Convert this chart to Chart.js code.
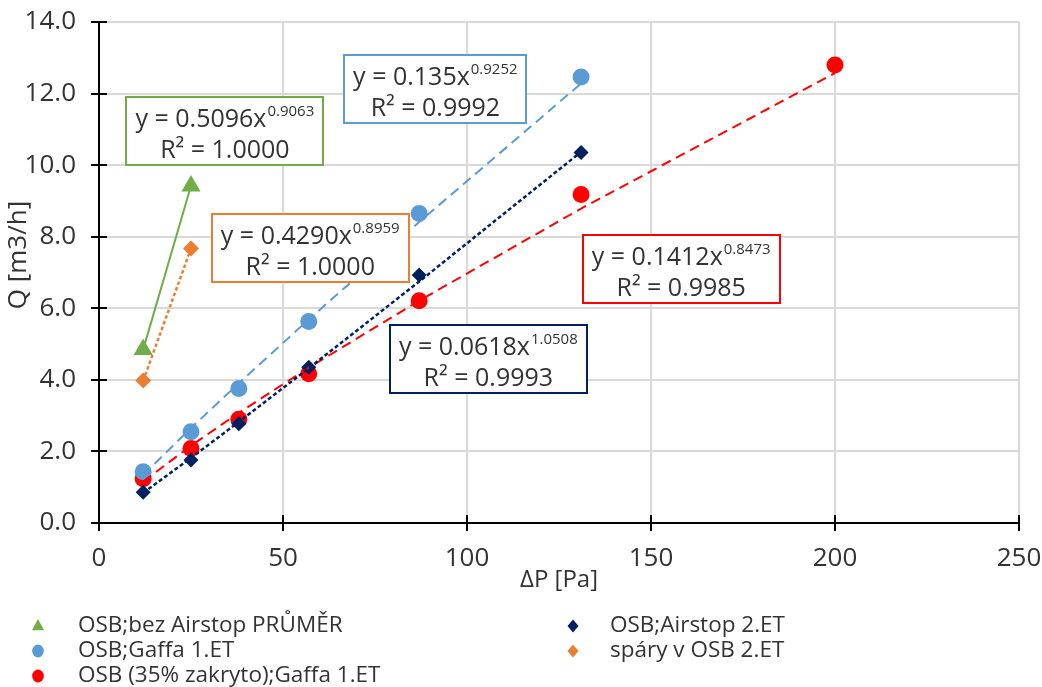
<!DOCTYPE html>
<html>
<head>
<meta charset="utf-8">
<script src="https://cdn.jsdelivr.net/npm/chart.js@4.4.0/dist/chart.umd.min.js"></script>
<style>
  html, body { margin: 0; padding: 0; background: #fff; }
  #wrap { width: 1042px; height: 687px; }
</style>
</head>
<body>
<div id="wrap"><canvas id="airflow-chart" width="1042" height="687"></canvas></div>
<script>
// Pressure differences [Pa] for each measurement run
const pressureShort = [12, 25];
const pressureLong = [12, 25, 38, 57, 87, 131];
const pressureFull = [12, 25, 38, 57, 87, 131, 200];

// Measured air flow Q [m3/h]
const flowBezAirstop = [4.85, 9.42];
const flowAirstop2 = [0.86, 1.76, 2.77, 4.35, 6.93, 10.35];
const flowGaffa1 = [1.43, 2.55, 3.76, 5.63, 8.65, 12.46];
const flowSpary2 = [3.98, 7.67];
const flowZakryto = [1.24, 2.08, 2.90, 4.17, 6.21, 9.18, 12.80];

const seriesNames = [
  'OSB;bez Airstop PRŮMĚR',
  'OSB;Airstop 2.ET',
  'OSB;Gaffa 1.ET',
  'spáry v OSB 2.ET',
  'OSB (35% zakryto);Gaffa 1.ET'
];

// Power trendlines y = a * x^b, as printed in the labels
const trendA = ['0.5096', '0.0618', '0.135', '0.4290', '0.1412'];
const trendB = ['0.9063', '1.0508', '0.9252', '0.8959', '0.8473'];
const trendR2 = ['1.0000', '0.9993', '0.9992', '1.0000', '0.9985'];

const xTicks = [0, 50, 100, 150, 200, 250];
const yTicks = [0, 2, 4, 6, 8, 10, 12, 14];

const FONT = '"Open Sans", "Noto Sans", sans-serif';
const TEXT = '#333333';

const seriesX = [pressureShort, pressureLong, pressureLong, pressureShort, pressureFull];
const seriesY = [flowBezAirstop, flowAirstop2, flowGaffa1, flowSpary2, flowZakryto];

// look of each series: marker, trendline and where its equation box sits (data units)
const seriesStyle = [
  { color: '#70ad47', point: 'triangle', radius: 11, legendR: 7, dash: [], width: 2, box: [34.2, 10.95] },
  { color: '#002060', point: 'rectRot', radius: 7.5, legendR: 6.5, dash: [4, 2.5], width: 2.5, box: [105.8, 4.57] },
  { color: '#5b9bd5', point: 'circle', radius: 8.5, legendR: 6.5, dash: [10, 6], width: 2, box: [91.4, 12.12] },
  { color: '#ed7d31', point: 'rectRot', radius: 8, legendR: 6.5, dash: [3.5, 2.5], width: 2.5, box: [57.4, 7.68] },
  { color: '#ff0000', point: 'circle', radius: 8.5, legendR: 6.5, dash: [10, 6], width: 2, box: [158.2, 7.09] }
];

const datasets = [];
seriesNames.forEach((name, i) => {
  const st = seriesStyle[i];
  const a = Number(trendA[i]);
  const b = Number(trendB[i]);
  datasets.push({
    label: name,
    data: seriesX[i].map((x, k) => ({ x: x, y: seriesY[i][k] })),
    showLine: false,
    pointStyle: st.point,
    pointRadius: st.radius,
    pointHoverRadius: st.radius,
    pointBackgroundColor: st.color,
    pointBorderColor: st.color,
    pointBorderWidth: 0,
    order: 2
  });
  // fitted curve evaluated at the measured pressures
  datasets.push({
    label: name + ' trend',
    data: seriesX[i].map(x => ({ x: x, y: a * Math.pow(x, b) })),
    showLine: true,
    borderColor: st.color,
    borderWidth: st.width,
    borderDash: st.dash,
    pointRadius: 0,
    fill: false,
    order: 1
  });
});

function drawMarker(ctx, type, x, y, r, color) {
  ctx.fillStyle = color;
  ctx.beginPath();
  if (type === 'triangle') {
    ctx.moveTo(x, y - r);
    ctx.lineTo(x + r * 0.866, y + r * 0.6);
    ctx.lineTo(x - r * 0.866, y + r * 0.6);
  } else if (type === 'rectRot') {
    ctx.moveTo(x, y - r);
    ctx.lineTo(x + r * 0.85, y);
    ctx.lineTo(x, y + r);
    ctx.lineTo(x - r * 0.85, y);
  } else {
    ctx.ellipse(x, y, r * 0.9, r, 0, 0, Math.PI * 2);
  }
  ctx.closePath();
  ctx.fill();
}

// no extra room for overhanging tick labels, the layout padding decides the plot box
function noLabelPadding(s) {
  s.paddingLeft = 0;
  s.paddingRight = 0;
  s.paddingTop = 0;
  s.paddingBottom = 0;
}

const chartDecor = {
  id: 'chartDecor',
  afterDraw(chart) {
    const { ctx, chartArea: area, scales } = chart;
    const sx = scales.x, sy = scales.y;
    ctx.save();

    // axis lines with crossing tick marks
    ctx.strokeStyle = '#000';
    ctx.lineWidth = 2;
    ctx.beginPath();
    ctx.moveTo(area.left, area.top - 1);
    ctx.lineTo(area.left, area.bottom);
    ctx.lineTo(area.right + 1, area.bottom);
    ctx.stroke();
    ctx.beginPath();
    yTicks.forEach(v => {
      const py = Math.round(sy.getPixelForValue(v));
      ctx.moveTo(area.left - 8, py);
      ctx.lineTo(area.left + 8, py);
    });
    xTicks.forEach(v => {
      const px = Math.round(sx.getPixelForValue(v));
      ctx.moveTo(px, area.bottom - 8);
      ctx.lineTo(px, area.bottom + 8);
    });
    ctx.stroke();

    // axis titles
    ctx.fillStyle = TEXT;
    ctx.textAlign = 'center';
    ctx.textBaseline = 'middle';
    ctx.font = '24px ' + FONT;
    ctx.fillText('ΔP [Pa]', (area.left + area.right) / 2, 580);
    ctx.save();
    ctx.translate(19, 255);
    ctx.rotate(-Math.PI / 2);
    ctx.font = '26px ' + FONT;
    ctx.fillText('Q [m3/h]', 0, 0);
    ctx.restore();

    // trendline equation boxes
    ctx.textAlign = 'left';
    ctx.textBaseline = 'alphabetic';
    seriesNames.forEach((name, i) => {
      const st = seriesStyle[i];
      const main = 'y = ' + trendA[i] + 'x';
      const second = 'R² = ' + trendR2[i];
      ctx.font = '25px ' + FONT;
      const wMain = ctx.measureText(main).width;
      const wSecond = ctx.measureText(second).width;
      ctx.font = '15px ' + FONT;
      const wSup = ctx.measureText(trendB[i]).width;
      const w1 = wMain + wSup + 1;
      const boxW = Math.round(Math.max(w1, wSecond) + 18);
      const boxH = 68;
      const cx = sx.getPixelForValue(st.box[0]);
      const cy = sy.getPixelForValue(st.box[1]);
      const left = Math.round(cx - boxW / 2);
      const top = Math.round(cy - boxH / 2);
      ctx.fillStyle = '#fff';
      ctx.fillRect(left, top, boxW, boxH);
      ctx.strokeStyle = st.color;
      ctx.lineWidth = 2;
      ctx.strokeRect(left, top, boxW, boxH);
      ctx.fillStyle = TEXT;
      const x1 = cx - w1 / 2;
      ctx.font = '25px ' + FONT;
      ctx.fillText(main, x1, top + 30);
      ctx.font = '15px ' + FONT;
      ctx.fillText(trendB[i], x1 + wMain + 1, top + 19);
      ctx.font = '25px ' + FONT;
      ctx.fillText(second, cx - wSecond / 2, top + 61);
    });

    // legend in two columns below the plot
    ctx.font = '22.5px ' + FONT;
    ctx.textBaseline = 'middle';
    const colMarker = [38, 573];
    const colText = [78, 610];
    const rowY = [626, 651, 676];
    seriesNames.forEach((name, i) => {
      const st = seriesStyle[i];
      const col = i % 2;
      const row = Math.floor(i / 2);
      drawMarker(ctx, st.point, colMarker[col], rowY[row], st.legendR, st.color);
      ctx.fillStyle = TEXT;
      ctx.fillText(name, colText[col], rowY[row]);
    });
    ctx.restore();
  }
};

new Chart(document.getElementById('airflow-chart'), {
  type: 'scatter',
  data: { datasets: datasets },
  options: {
    responsive: false,
    devicePixelRatio: 1,
    animation: false,
    layout: { padding: { left: 0, right: 23, top: 22, bottom: 87 } },
    plugins: {
      legend: { display: false },
      tooltip: { enabled: false }
    },
    scales: {
      x: {
        type: 'linear',
        min: 0,
        max: 250,
        afterFit: s => { s.height = 77; noLabelPadding(s); },
        afterBuildTicks: s => { s.ticks = xTicks.map(v => ({ value: v })); },
        grid: { color: '#d9d9d9', lineWidth: 2, drawTicks: false },
        border: { display: false },
        ticks: {
          padding: 20,
          color: TEXT,
          font: { family: FONT, size: 26 },
          callback: v => String(v)
        }
      },
      y: {
        type: 'linear',
        min: 0,
        max: 14,
        afterFit: s => { s.width = 99; noLabelPadding(s); },
        afterBuildTicks: s => { s.ticks = yTicks.map(v => ({ value: v })); },
        grid: { color: '#d9d9d9', lineWidth: 2, drawTicks: false },
        border: { display: false },
        ticks: {
          padding: 23,
          color: TEXT,
          font: { family: FONT, size: 26 },
          callback: v => v.toFixed(1)
        }
      }
    }
  },
  plugins: [chartDecor]
});
</script>
</body>
</html>
